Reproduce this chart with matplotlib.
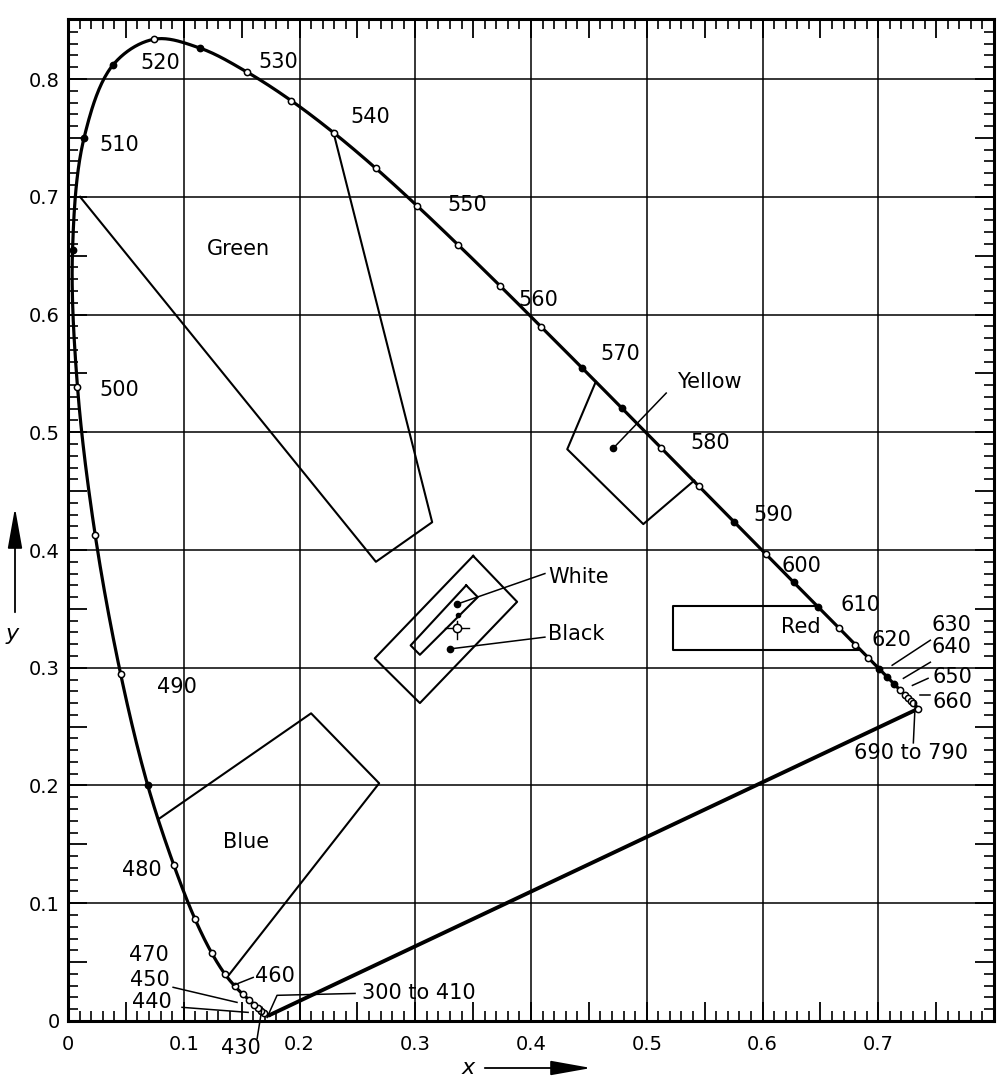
import matplotlib.pyplot as plt
import numpy as np
from matplotlib.ticker import MultipleLocator, FuncFormatter

plt.rcParams['font.family'] = ['DejaVu Sans']

# spectral locus (nm, x, y)
wl = [380, 430, 435, 440, 445, 450, 455, 460, 465, 470, 475, 480, 485, 490, 495,
      500, 505, 510, 515, 520, 525, 530, 535, 540, 545, 550, 555, 560, 565, 570,
      575, 580, 585, 590, 595, 600, 605, 610, 615, 620, 625, 630, 635, 640, 645,
      650, 655, 660, 690]
loc_x = [0.1741, 0.1689, 0.1669, 0.1644, 0.1611, 0.1566, 0.1510, 0.1440, 0.1355,
         0.1241, 0.1096, 0.0913, 0.0687, 0.0454, 0.0235, 0.0082, 0.0039, 0.0139,
         0.0389, 0.0743, 0.1142, 0.1547, 0.1929, 0.2296, 0.2658, 0.3016, 0.3373,
         0.3731, 0.4087, 0.4441, 0.4788, 0.5125, 0.5448, 0.5752, 0.6029, 0.6270,
         0.6482, 0.6658, 0.6801, 0.6915, 0.7006, 0.7079, 0.7140, 0.7190, 0.7230,
         0.7260, 0.7283, 0.7300, 0.7347]
loc_y = [0.0050, 0.0069, 0.0086, 0.0109, 0.0138, 0.0177, 0.0227, 0.0297, 0.0399,
         0.0578, 0.0868, 0.1327, 0.2007, 0.2950, 0.4127, 0.5384, 0.6548, 0.7502,
         0.8120, 0.8338, 0.8262, 0.8059, 0.7816, 0.7543, 0.7243, 0.6923, 0.6589,
         0.6245, 0.5896, 0.5547, 0.5202, 0.4866, 0.4544, 0.4242, 0.3965, 0.3725,
         0.3514, 0.3340, 0.3197, 0.3083, 0.2993, 0.2920, 0.2859, 0.2809, 0.2770,
         0.2740, 0.2717, 0.2700, 0.2653]
filled_wl = [485, 505, 510, 515, 525, 570, 575, 590, 600, 605, 625, 630, 635]

# wavelength labels: text, x, y
lab_txt = ['500', '510', '520', '530', '540', '550', '560', '570', '580', '590',
           '600', '610', '620', '630', '640', '650', '660', '690 to 790',
           '490', '480', '470', '460', '450', '440', '430']
lab_x = [0.044, 0.0445, 0.0795, 0.182, 0.261, 0.345, 0.406, 0.477, 0.555, 0.609,
         0.634, 0.6845, 0.711, 0.763, 0.763, 0.764, 0.764, 0.728,
         0.094, 0.064, 0.070, 0.179, 0.0709, 0.0726, 0.1495]
lab_y = [0.5358, 0.744, 0.8136, 0.8144, 0.7677, 0.693, 0.6123, 0.5664, 0.4907, 0.430,
         0.386, 0.353, 0.3234, 0.336, 0.3174, 0.292, 0.2706, 0.2274,
         0.284, 0.128, 0.0557, 0.0379, 0.0345, 0.0158, -0.0233]

# leader lines
leaders = {
    '430': ([0.1634, 0.1677], [-0.0148, 0.0116]),
    '440': ([0.0985, 0.1556], [0.0116, 0.0073]),
    '450': ([0.0908, 0.146], [0.0286, 0.0158]),
    '460': ([0.160, 0.1426], [0.037, 0.0302]),
    '300': ([0.172, 0.1806, 0.248], [0.003, 0.0218, 0.0234]),
    '630': ([0.745, 0.712], [0.3234, 0.3021]),
    '640': ([0.745, 0.7217], [0.3047, 0.291]),
    '650': ([0.743, 0.7295], [0.291, 0.285]),
    '660': ([0.745, 0.7364], [0.2765, 0.2765]),
    '690': ([0.732, 0.7303], [0.2718, 0.2362]),
    'white': ([0.336, 0.412], [0.354, 0.380]),
    'black': ([0.330, 0.412], [0.316, 0.326]),
    'yellow': ([0.471, 0.5168], [0.4864, 0.5333]),
}

# colour regions
green_x = [0.0104, 0.266, 0.3146, 0.229]
green_y = [0.700, 0.390, 0.4236, 0.756]
blue_x = [0.0790, 0.210, 0.2688, 0.1374]
blue_y = [0.172, 0.2613, 0.2019, 0.0371]
yellow_x = [0.456, 0.4313, 0.497, 0.541]
yellow_y = [0.543, 0.4856, 0.422, 0.459]
red_x = [0.648, 0.5226, 0.5226, 0.684]
red_y = [0.3523, 0.3523, 0.3149, 0.3149]
wb_outer_x = [0.350, 0.388, 0.304, 0.265, 0.350]
wb_outer_y = [0.395, 0.356, 0.270, 0.308, 0.395]
wb_inner_x = [0.344, 0.354, 0.304, 0.296, 0.344]
wb_inner_y = [0.370, 0.360, 0.311, 0.319, 0.370]


def smooth(xs, ys, n=24):
    # centripetal Catmull-Rom through the points
    P = np.column_stack([xs, ys])
    P = np.vstack([2 * P[0] - P[1], P, 2 * P[-1] - P[-2]])
    out = []
    for i in range(1, len(P) - 2):
        p0, p1, p2, p3 = P[i - 1], P[i], P[i + 1], P[i + 2]
        t0 = 0.0
        t1 = t0 + max(np.linalg.norm(p1 - p0), 1e-9) ** 0.5
        t2 = t1 + max(np.linalg.norm(p2 - p1), 1e-9) ** 0.5
        t3 = t2 + max(np.linalg.norm(p3 - p2), 1e-9) ** 0.5
        t = np.linspace(t1, t2, n)[:, None]
        a1 = (t1 - t) / (t1 - t0) * p0 + (t - t0) / (t1 - t0) * p1
        a2 = (t2 - t) / (t2 - t1) * p1 + (t - t1) / (t2 - t1) * p2
        a3 = (t3 - t) / (t3 - t2) * p2 + (t - t2) / (t3 - t2) * p3
        b1 = (t2 - t) / (t2 - t0) * a1 + (t - t0) / (t2 - t0) * a2
        b2 = (t3 - t) / (t3 - t1) * a2 + (t - t1) / (t3 - t1) * a3
        out.append((t2 - t) / (t2 - t1) * b1 + (t - t1) / (t2 - t1) * b2)
    c = np.vstack(out)
    return c[:, 0], c[:, 1]


fig = plt.figure(figsize=(10.06, 10.85), dpi=100)
ax = fig.add_axes([0.0676, 0.059, 0.9205, 0.9235])
ax.set_xlim(0, 0.8)
ax.set_ylim(0, 0.851)

# grid at 0.1
for g in np.arange(0.1, 0.75, 0.1):
    ax.axvline(g, color='k', lw=1.1, zorder=1)
for g in np.arange(0.1, 0.85, 0.1):
    ax.axhline(g, color='k', lw=1.1, zorder=1)

# locus and purple line
sx, sy = smooth(loc_x, loc_y)
ax.plot(sx, sy, color='k', lw=2.3, zorder=3)
ax.plot([loc_x[0], loc_x[-1]], [loc_y[0], loc_y[-1]], color='k', lw=2.8, zorder=3)
for w, px, py in zip(wl[1:], loc_x[1:], loc_y[1:]):
    fc = 'k' if w in filled_wl else 'white'
    ax.plot(px, py, 'o', ms=4.5, mfc=fc, mec='k', mew=1.1, zorder=4)

# regions
for rx, ry in [(green_x, green_y), (blue_x, blue_y), (yellow_x, yellow_y),
               (red_x, red_y), (wb_outer_x, wb_outer_y), (wb_inner_x, wb_inner_y)]:
    ax.plot(rx, ry, color='k', lw=1.5, zorder=2)

# white / black points, sun symbol
ax.plot([0.336, 0.330, 0.471], [0.354, 0.316, 0.4864], 'o', ms=4.5, color='k', zorder=5)
ax.plot(0.337, 0.345, 'o', ms=3, color='k', zorder=5)
ax.plot([0.326, 0.346], [0.334, 0.334], color='k', lw=1.0, zorder=5)
ax.plot([0.336, 0.336], [0.324, 0.340], color='k', lw=1.0, zorder=5)
ax.plot(0.336, 0.334, 'o', ms=6, mfc='white', mec='k', mew=1.1, zorder=6)

for k, (lx, ly) in leaders.items():
    ax.plot(lx, ly, color='k', lw=1.1, zorder=5, clip_on=False)

fs = 15
for t, tx, ty in zip(lab_txt, lab_x, lab_y):
    ax.text(tx, ty, t, fontsize=fs, ha='center', va='center', zorder=6, clip_on=False)
ax.text(0.254, 0.0234, '300 to 410', fontsize=fs, ha='left', va='center', zorder=6)
ax.text(0.147, 0.656, 'Green', fontsize=fs, ha='center', va='center')
ax.text(0.1538, 0.152, 'Blue', fontsize=fs, ha='center', va='center')
ax.text(0.554, 0.5426, 'Yellow', fontsize=fs, ha='center', va='center')
ax.text(0.6327, 0.3344, 'Red', fontsize=fs, ha='center', va='center')
ax.text(0.415, 0.3769, 'White', fontsize=fs, ha='left', va='center')
ax.text(0.415, 0.3284, 'Black', fontsize=fs, ha='left', va='center')


# ticks: labels only at multiples of 0.1
def fmt(v, pos):
    r = round(v * 10)
    if abs(v * 10 - r) > 1e-6:
        return ''
    return '0' if r == 0 else f'{r / 10:.1f}'


def fmt_x(v, pos):
    return '' if v > 0.75 else fmt(v, pos)


ax.xaxis.set_major_formatter(FuncFormatter(fmt_x))
ax.yaxis.set_major_formatter(FuncFormatter(fmt))
for axis in (ax.xaxis, ax.yaxis):
    axis.set_major_locator(MultipleLocator(0.05))
    axis.set_minor_locator(MultipleLocator(0.01))
ax.tick_params(which='major', direction='in', length=14, width=1.3,
               top=True, right=True, labelsize=14)
ax.tick_params(which='minor', direction='in', length=7, width=1.2, top=True, right=True)
ax.tick_params(axis='x', which='major', pad=10)
ax.tick_params(axis='y', which='major', pad=6)
for s in ax.spines.values():
    s.set_linewidth(2.2)

# axis captions with arrows
fig.text(468 / 1006, 1 - 1068 / 1085, 'x', fontsize=16, style='italic', ha='center', va='center')
ax.annotate('', xy=(594 / 1006, 1 - 1068 / 1085), xytext=(482 / 1006, 1 - 1068 / 1085),
            xycoords='figure fraction',
            arrowprops=dict(arrowstyle='-|>,head_length=1.4,head_width=0.25', lw=1.3,
                            color='k', mutation_scale=18))
fig.text(12 / 1006, 1 - 634 / 1085, 'y', fontsize=16, style='italic', ha='center', va='center')
ax.annotate('', xy=(15 / 1006, 1 - 505 / 1085), xytext=(15 / 1006, 1 - 615 / 1085),
            xycoords='figure fraction',
            arrowprops=dict(arrowstyle='-|>,head_length=1.4,head_width=0.25', lw=1.3,
                            color='k', mutation_scale=18))

fig.savefig('out.png', dpi=100)
